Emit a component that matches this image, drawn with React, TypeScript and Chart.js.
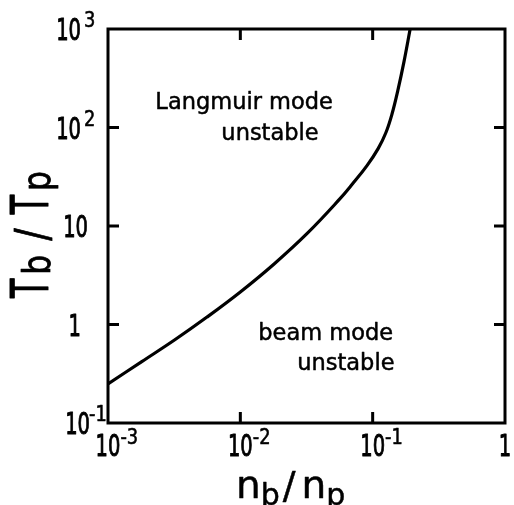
import React, { useEffect, useRef } from 'react';
import { Chart, registerables } from 'chart.js';

Chart.register(...registerables);

// Stability boundary between the Langmuir-mode and beam-mode regions
const densityRatio = [0.001, 0.0018, 0.0032, 0.0056, 0.01, 0.018, 0.032, 0.056, 0.07, 0.0906, 0.11, 0.126, 0.14, 0.155, 0.1725, 0.192];
const tempRatio = [0.249, 0.42, 0.7, 1.19, 2.14, 4.12, 8.41, 18.6, 26.5, 41, 61, 89, 137, 238, 467, 1000];

// Decade ticks: mantissa text and exponent text
const xTickValues = [0.001, 0.01, 0.1, 1];
const xTickBase = ['10', '10', '10', '1'];
const xTickExp = ['-3', '-2', '-1', ''];
const yTickValues = [1000, 100, 10, 1, 0.1];
const yTickBase = ['10', '10', '10', '1', '10'];
const yTickExp = ['3', '2', '', '', '-1'];

// Region annotations, anchored (left, baseline) in data units
const regionText = ['Langmuir mode', 'unstable', 'beam mode', 'unstable'];
const regionX = [0.00228, 0.00719, 0.01367, 0.02693];
const regionY = [154, 74.7, 0.697, 0.345];

const FONT = '"DejaVu Sans", sans-serif';

type Run = { t: string; size: number; sx?: number; dy?: number; gap?: number; bold?: number };

function runWidth(ctx: CanvasRenderingContext2D, runs: Run[]) {
  let w = 0;
  for (const r of runs) {
    ctx.font = `${r.size}px ${FONT}`;
    w += (r.gap || 0) + ctx.measureText(r.t).width * (r.sx ?? 1);
  }
  return w;
}

function drawRuns(ctx: CanvasRenderingContext2D, x: number, y: number, runs: Run[]) {
  let cx = x;
  for (const r of runs) {
    cx += r.gap || 0;
    ctx.save();
    ctx.font = `${r.size}px ${FONT}`;
    const adv = ctx.measureText(r.t).width * (r.sx ?? 1);
    ctx.translate(cx, y + (r.dy || 0));
    ctx.scale(r.sx ?? 1, 1);
    ctx.textAlign = 'left';
    ctx.textBaseline = 'alphabetic';
    ctx.fillText(r.t, 0, 0);
    if (r.bold) {
      ctx.lineWidth = r.bold;
      ctx.lineJoin = 'round';
      ctx.strokeText(r.t, 0, 0);
    }
    ctx.restore();
    cx += adv;
  }
}

const frameAndLabels = {
  id: 'frameAndLabels',
  afterDraw(chart: any) {
    const ctx: CanvasRenderingContext2D = chart.ctx;
    const { left, right, top, bottom } = chart.chartArea;
    const xs = chart.scales.x;
    const ys = chart.scales.y;
    const tickLen = 11;
    ctx.save();
    ctx.strokeStyle = '#000';
    ctx.fillStyle = '#000';
    ctx.lineWidth = 3;
    ctx.lineCap = 'square';
    ctx.strokeRect(left, top, right - left, bottom - top);

    // inward ticks on all four sides
    ctx.lineCap = 'butt';
    ctx.beginPath();
    xTickValues.forEach((v) => {
      const px = xs.getPixelForValue(v);
      if (px <= left + 1 || px >= right - 1) return;
      ctx.moveTo(px, bottom);
      ctx.lineTo(px, bottom - tickLen);
      ctx.moveTo(px, top);
      ctx.lineTo(px, top + tickLen);
    });
    yTickValues.forEach((v) => {
      const py = ys.getPixelForValue(v);
      if (py <= top + 1 || py >= bottom - 1) return;
      ctx.moveTo(left, py);
      ctx.lineTo(left + tickLen, py);
      ctx.moveTo(right, py);
      ctx.lineTo(right - tickLen, py);
    });
    ctx.stroke();

    // x tick labels: mantissa centred on the tick, exponent raised after it
    xTickValues.forEach((v, i) => {
      const px = xs.getPixelForValue(v);
      const base: Run = { t: xTickBase[i], size: 30, sx: 0.65, bold: 1 };
      const bw = runWidth(ctx, [base]);
      const runs: Run[] = [base];
      if (xTickExp[i]) runs.push({ t: xTickExp[i], size: 21, sx: 0.85, dy: -12, bold: 0.6 });
      drawRuns(ctx, px - bw / 2, bottom + 33, runs);
    });

    // y tick labels
    yTickValues.forEach((v, i) => {
      const py = ys.getPixelForValue(v);
      const base: Run = { t: yTickBase[i], size: 30, sx: 0.65, bold: 1 };
      const bw = runWidth(ctx, [base]);
      const exp = yTickExp[i];
      let rightEdge = 81;
      if (!exp && yTickBase[i].length > 1) rightEdge = 88;
      if (exp.startsWith('-')) rightEdge = 90;
      const runs: Run[] = [base];
      if (exp) runs.push({ t: exp, size: 21, sx: 0.85, dy: -13, gap: exp.startsWith('-') ? -1 : 3, bold: 0.6 });
      drawRuns(ctx, rightEdge - bw, py + 11, runs);
    });

    // x axis title
    drawRuns(ctx, 236, 498, [
      { t: 'n', size: 39, bold: 0.5 },
      { t: 'b', size: 30, dy: 7, bold: 0.5 },
      { t: '/', size: 38, gap: 3, bold: 0.5 },
      { t: 'n', size: 39, gap: 6, bold: 0.5 },
      { t: 'p', size: 30, dy: 7, bold: 0.5 },
    ]);

    // y axis title, reading upwards
    ctx.save();
    ctx.translate(48, 298);
    ctx.rotate(-Math.PI / 2);
    drawRuns(ctx, 0, 0, [
      { t: 'T', size: 51, sx: 0.62, bold: 1 },
      { t: 'b', size: 37, sx: 0.85, dy: 2, gap: 4, bold: 0.8 },
      { t: '/', size: 46, sx: 0.8, gap: 14, bold: 0.8 },
      { t: 'T', size: 51, sx: 0.62, gap: 14, bold: 1 },
      { t: 'p', size: 37, sx: 0.85, dy: 2, gap: 4, bold: 0.8 },
    ]);
    ctx.restore();

    // region annotations
    regionText.forEach((t, i) => {
      const px = xs.getPixelForValue(regionX[i]);
      const py = ys.getPixelForValue(regionY[i]);
      drawRuns(ctx, px, py, [{ t, size: 22.5, bold: 0.5 }]);
    });
    ctx.restore();
  },
};

export default function App() {
  const canvasRef = useRef<HTMLCanvasElement | null>(null);

  useEffect(() => {
    const canvas = canvasRef.current;
    if (!canvas) return;
    const chart = new Chart(canvas, {
      type: 'line',
      data: {
        datasets: [
          {
            data: densityRatio.map((x, i) => ({ x, y: tempRatio[i] })),
            borderColor: '#000',
            borderWidth: 3.2,
            pointRadius: 0,
            fill: false,
            tension: 0.4,
          },
        ],
      },
      options: {
        animation: false,
        responsive: false,
        devicePixelRatio: 1,
        layout: { padding: { left: 108, top: 29, right: 9, bottom: 82 } },
        scales: {
          x: { type: 'logarithmic', min: 0.001, max: 1, display: false },
          y: { type: 'logarithmic', min: 0.1, max: 1000, display: false },
        },
        plugins: { legend: { display: false }, tooltip: { enabled: false } },
      },
      plugins: [frameAndLabels],
    });
    return () => chart.destroy();
  }, []);

  return (
    <div style={{ position: 'absolute', left: 0, top: 0, width: 514, height: 505, background: '#fff' }}>
      <canvas ref={canvasRef} width={514} height={505} style={{ width: 514, height: 505 }} />
    </div>
  );
}
